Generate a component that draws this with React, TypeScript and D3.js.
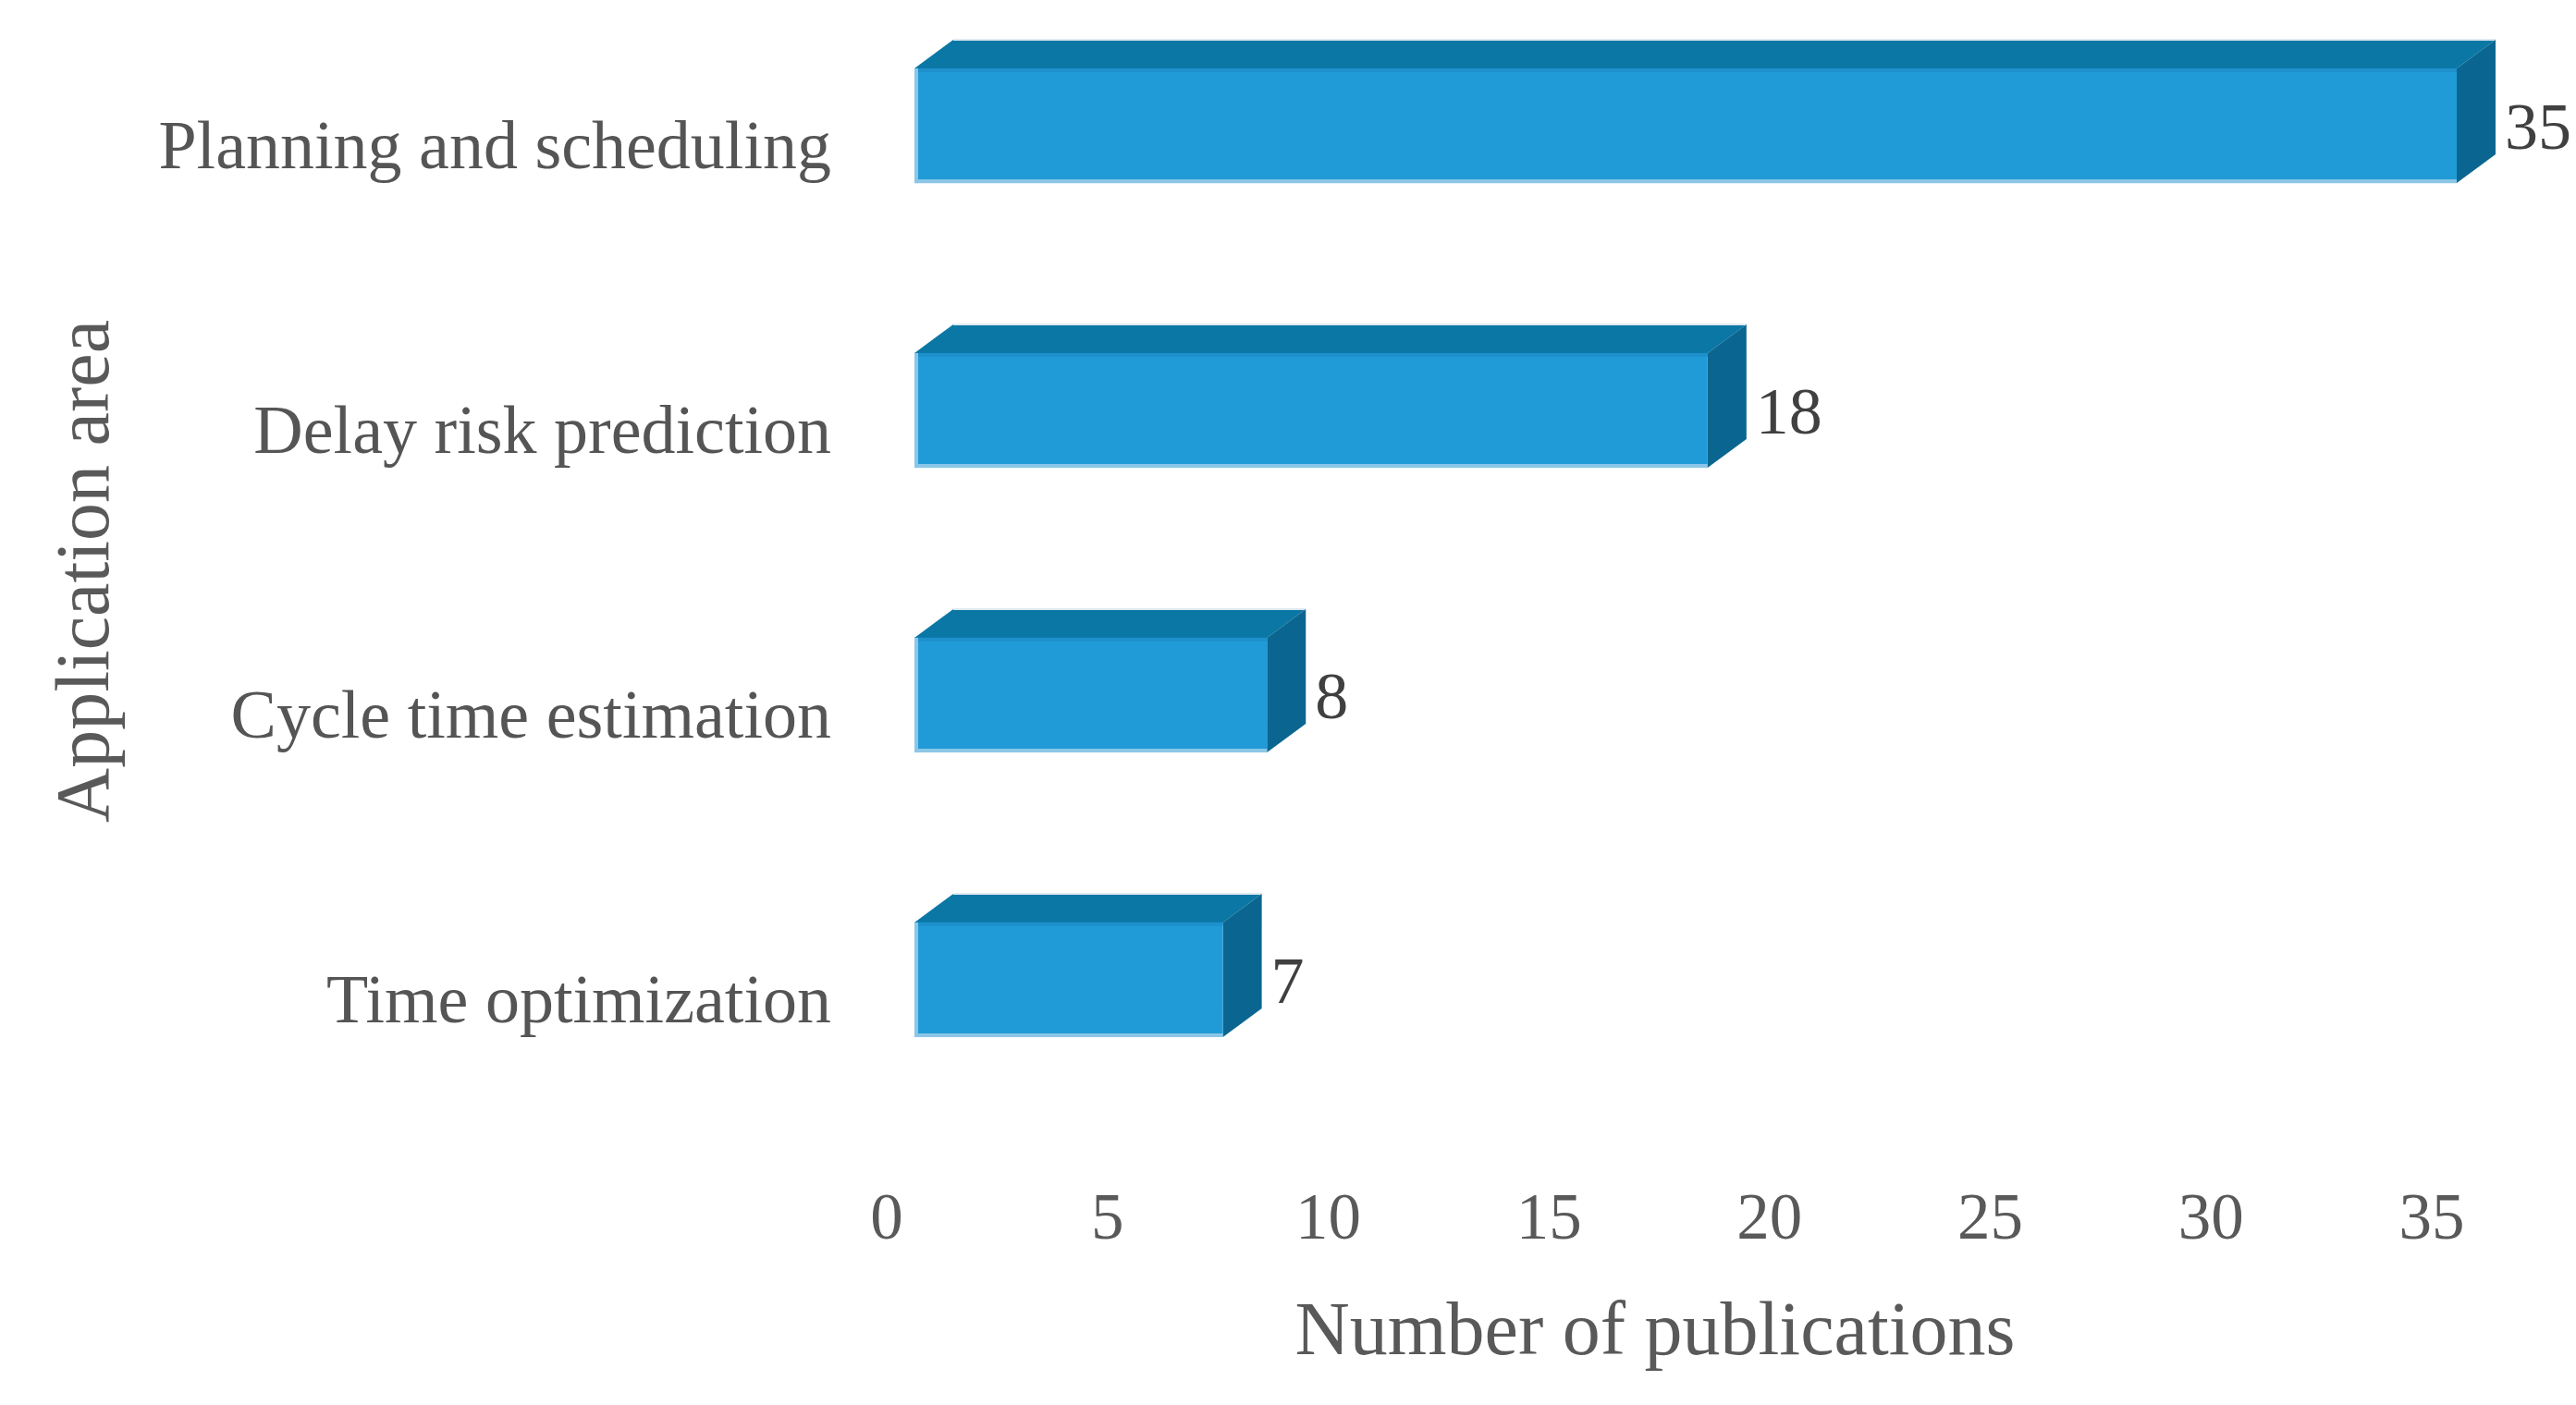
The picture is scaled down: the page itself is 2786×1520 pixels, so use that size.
import React from "react";
import * as d3 from "d3";

const categories = ["Planning and scheduling", "Delay risk prediction", "Cycle time estimation", "Time optimization"];
const values = [35, 18, 8, 7];
const ticks = [0, 5, 10, 15, 20, 25, 30, 35];

const W = 2786;
const H = 1520;
const DX = 42;
const DY = 31;
const FONT = "'Liberation Serif', 'Times New Roman', serif";

export default function App() {
  const xBar = d3.scaleLinear().domain([0, 35]).range([989, 2657]);
  const xTick = d3.scaleLinear().domain([0, 35]).range([959, 2630]);
  const y = d3
    .scaleBand<string>()
    .domain(categories)
    .range([74, 1122])
    .paddingInner(0.597)
    .paddingOuter(0);
  const bh = y.bandwidth();

  return (
    <svg width={W} height={H} style={{ display: "block", position: "absolute", left: 0, top: 0 }}>
      <rect width={W} height={H} fill="#ffffff" />
      {categories.map((c, i) => {
        const v = values[i];
        const x0 = xBar(0);
        const x1 = xBar(v);
        const y0 = y(c)!;
        const y1 = y0 + bh;
        const top = `M${x0},${y0} L${x0 + DX},${y0 - DY} L${x1 + DX},${y0 - DY} L${x1},${y0} Z`;
        const side = `M${x1},${y0} L${x1 + DX},${y0 - DY} L${x1 + DX},${y1 - DY} L${x1},${y1} Z`;
        return (
          <g key={c}>
            <path d={top} fill="#0B77A5" />
            <line x1={x0 + DX} y1={y0 - DY} x2={x1 + DX} y2={y0 - DY} stroke="#dfe9f1" strokeWidth={2} />
            <path d={side} fill="#0A6690" />
            <rect x={x0} y={y0} width={x1 - x0} height={bh} fill="#219BD7" />
            <rect x={x0} y={y0} width={x1 - x0} height={4} fill="#1E90CC" />
            <line x1={x0 + 2} y1={y0} x2={x0 + 2} y2={y1} stroke="#8CC6E6" strokeWidth={4} />
            <line x1={x0} y1={y1 - 2} x2={x1} y2={y1 - 2} stroke="#8CC6E6" strokeWidth={4} />
            <text
              x={x1 + DX + 10}
              y={y0 + bh / 2}
              dy="0.35em"
              fontFamily={FONT}
              fontSize={72}
              fill="#404040"
            >
              {v}
            </text>
            <text
              x={899}
              y={y0 + 108}
              textAnchor="end"
              fontFamily={FONT}
              fontSize={74}
              fill="#555555"
            >
              {c}
            </text>
          </g>
        );
      })}
      {ticks.map((t) => (
        <text
          key={t}
          x={xTick(t)}
          y={1340}
          textAnchor="middle"
          fontFamily={FONT}
          fontSize={71}
          fill="#595959"
        >
          {t}
        </text>
      ))}
      <text
        x={1790}
        y={1465}
        textAnchor="middle"
        fontFamily={FONT}
        fontSize={82}
        fill="#595959"
      >
        Number of publications
      </text>
      <text
        transform={`translate(117,618) rotate(-90)`}
        textAnchor="middle"
        fontFamily={FONT}
        fontSize={82}
        fill="#595959"
      >
        Application area
      </text>
    </svg>
  );
}
